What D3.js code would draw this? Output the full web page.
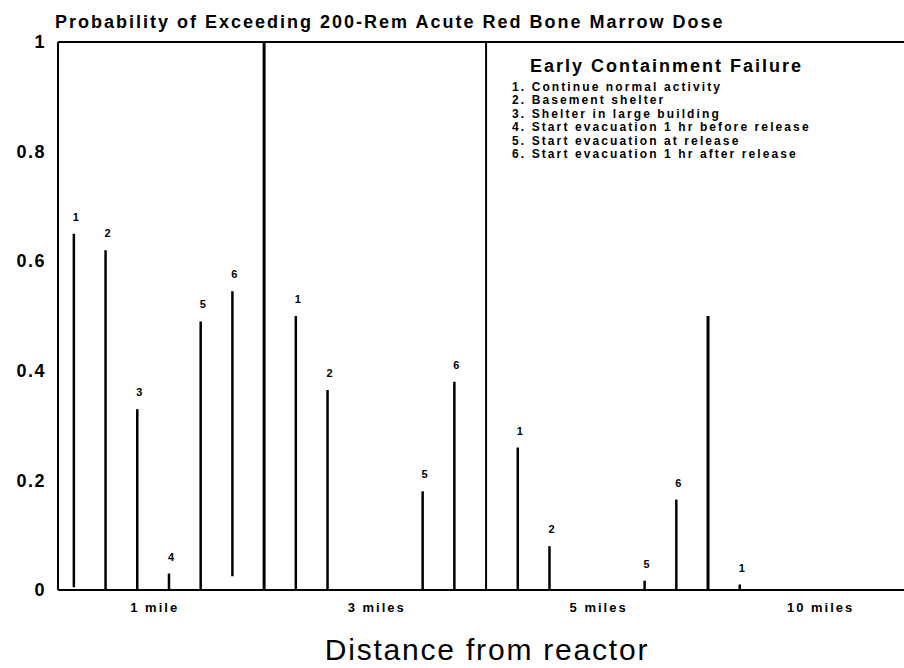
<!DOCTYPE html>
<html><head><meta charset="utf-8">
<script src="https://cdn.jsdelivr.net/npm/d3@7"></script>
<style>
html,body{margin:0;padding:0;background:#fff;}
svg{display:block;}
text{font-family:"Liberation Sans",Arial,sans-serif;fill:#000;}
</style></head>
<body><svg id="chart" width="904" height="668"></svg>
<script>
const title = "Probability of Exceeding 200-Rem Acute Red Bone Marrow Dose";
const legendTitle = "Early Containment Failure";
const distances = ["1 mile", "3 miles", "5 miles", "10 miles"];
const actions = [
  "Continue normal activity",
  "Basement shelter",
  "Shelter in large building",
  "Start evacuation 1 hr before release",
  "Start evacuation at release",
  "Start evacuation 1 hr after release"
];
// probability (top of each line) per distance, per action 1..6
const prob1mile  = [0.65, 0.62, 0.33, 0.03, 0.49, 0.545];
const prob3miles = [0.50, 0.365, 0, 0, 0.18, 0.38];
const prob5miles = [0.26, 0.08, 0, 0, 0.017, 0.165];
const prob10miles = [0.01, 0, 0, 0, 0, 0];
// lower end of each line
const low1mile  = [0.005, 0, 0, 0, 0, 0.025];
const low3miles = [0, 0, 0, 0, 0, 0];
const low5miles = [0, 0, 0, 0, 0, 0];
const low10miles = [0, 0, 0, 0, 0, 0];
// height reached by the divider after each distance group
const dividerTops = [1, 1, 0.5];
const yTickValues = [0, 0.2, 0.4, 0.6, 0.8, 1];
const yTickLabels = ["0", "0.2", "0.4", "0.6", "0.8", "1"];
const xTitle = "Distance from reactor";

const probs = [prob1mile, prob3miles, prob5miles, prob10miles];
const lows = [low1mile, low3miles, low5miles, low10miles];
const slotsPerGroup = actions.length + 1;

const svg = d3.select("#chart");
const x = d3.scaleLinear().domain([0.5, 27.18]).range([58, 904]);
const y = d3.scaleLinear().domain([0, 1]).range([590, 42]);

const bars = [];
probs.forEach((g, gi) => g.forEach((v, i) => {
  if (v > 0) bars.push({g: gi, i: i, v: v, lo: lows[gi][i], pos: gi * slotsPerGroup + i + 1});
}));

// frame
svg.append("line").attr("x1", x(0.5)).attr("x2", 904).attr("y1", y(1)).attr("y2", y(1))
  .attr("stroke", "#000").attr("stroke-width", 2);
svg.append("line").attr("x1", x(0.5)).attr("x2", 904).attr("y1", y(0)).attr("y2", y(0))
  .attr("stroke", "#000").attr("stroke-width", 2);
svg.append("line").attr("x1", x(0.5)).attr("x2", x(0.5)).attr("y1", y(0)).attr("y2", y(1))
  .attr("stroke", "#000").attr("stroke-width", 2);

// dividers
svg.selectAll("line.div").data(dividerTops).join("line").attr("class", "div")
  .attr("x1", (d, i) => x((i + 1) * slotsPerGroup)).attr("x2", (d, i) => x((i + 1) * slotsPerGroup))
  .attr("y1", y(0)).attr("y2", d => y(d))
  .attr("stroke", "#000").attr("stroke-width", (d, i) => i === 1 ? 2 : 3);

// bars (vertical lines)
svg.selectAll("line.bar").data(bars).join("line").attr("class", "bar")
  .attr("x1", d => x(d.pos)).attr("x2", d => x(d.pos))
  .attr("y1", d => y(d.lo)).attr("y2", d => y(d.v))
  .attr("stroke", "#000").attr("stroke-width", 2.5);

svg.selectAll("text.blab").data(bars).join("text").attr("class", "blab")
  .attr("x", d => x(d.pos) + 2).attr("y", d => y(d.v) - 13)
  .attr("text-anchor", "middle").attr("font-size", 11).attr("font-weight", "bold")
  .text(d => d.i + 1);

// y axis labels
const yAxis = d3.axisLeft(y).tickValues(yTickValues).tickFormat((d, i) => yTickLabels[i]).tickSize(0).tickPadding(0);
const ga = svg.append("g").attr("transform", "translate(46,0)").call(yAxis);
ga.select(".domain").remove();
ga.selectAll("text").attr("font-size", 18).attr("font-weight", "bold")
  .attr("font-family", "'Liberation Sans',Arial,sans-serif").attr("letter-spacing", 1.5).attr("fill", "#000");

// x group labels
svg.selectAll("text.xlab").data(distances).join("text").attr("class", "xlab")
  .attr("x", (d, i) => x(i * slotsPerGroup + 3.55)).attr("y", 612)
  .attr("text-anchor", "middle").attr("font-size", 13).attr("font-weight", "bold")
  .attr("letter-spacing", 2).text(d => d);

// x title
svg.append("text").attr("x", 487).attr("y", 660).attr("text-anchor", "middle")
  .attr("font-size", 30).attr("letter-spacing", 1.8).text(xTitle);

// title
svg.append("text").attr("x", 55).attr("y", 28).attr("font-size", 18).attr("font-weight", "bold")
  .attr("letter-spacing", 2).text(title);

// legend
svg.append("text").attr("x", 530).attr("y", 72).attr("font-size", 18).attr("font-weight", "bold")
  .attr("letter-spacing", 2).text(legendTitle);
svg.selectAll("text.leg").data(actions).join("text").attr("class", "leg")
  .attr("x", 512).attr("y", (d, i) => 91 + i * 13.4)
  .attr("font-size", 12).attr("font-weight", "bold").attr("letter-spacing", 2.1)
  .text((d, i) => (i + 1) + ". " + d);
</script></body></html>
